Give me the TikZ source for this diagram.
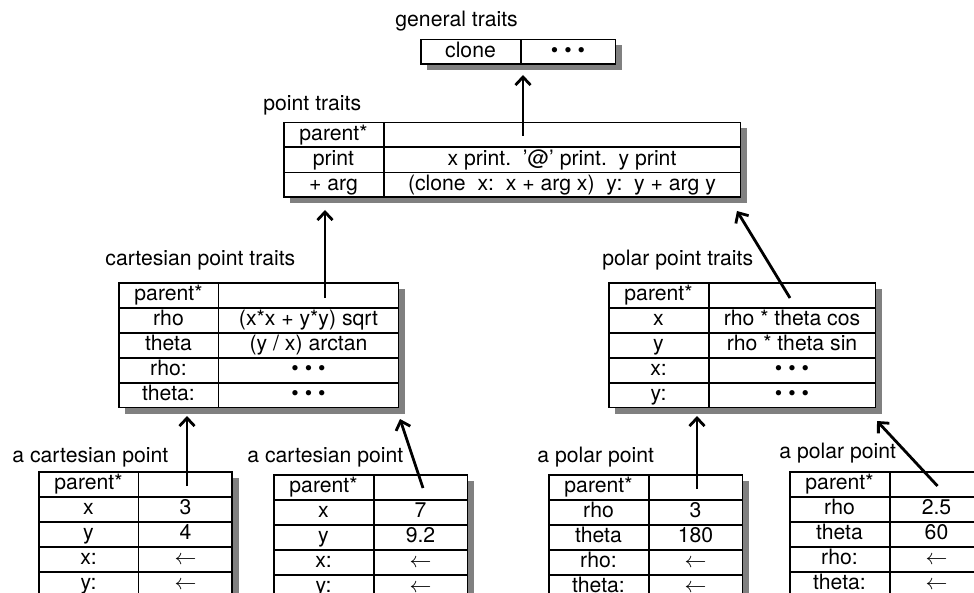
\documentclass[tikz,border=0pt]{standalone}
\usepackage{fontspec}
\setmainfont{TeX Gyre Heros}
\usepackage{tikz}
\usetikzlibrary{matrix,shadows,arrows.meta,calc}

\newcommand{\slotdots}{\textbullet~\textbullet~\textbullet}
\newcommand{\lftarr}{$\leftarrow$}

\tikzset{
  slot/.style={draw, line width=0.5pt, minimum height=12pt, inner sep=0pt,
    text height=7.6pt, text depth=2.2pt},
  tbl/.style={matrix of nodes, nodes in empty cells, anchor=north west,
    draw, line width=0.5pt, fill=white, inner sep=0pt,
    column sep=0pt, row sep=0pt, nodes={slot},
    column 1/.style={nodes={minimum width=49.5pt}},
    drop shadow={shadow xshift=3pt, shadow yshift=-3pt, fill=black!50, opacity=1}},
  valw/.style={column 2/.style={nodes={minimum width=#1}}},
  lbl/.style={anchor=base west, inner sep=0pt},
  ptr/.style={-{Straight Barb[length=4pt,width=7.5pt]}, line width=1.4pt}
}

\begin{document}
\begin{tikzpicture}[x=0.5pt, y=-0.5pt, font=\fontsize{10.6}{12}\selectfont]
  \useasboundingbox (0,0) rectangle (974,593);
  \clip (0,0) rectangle (974,593);

  % general traits
  \node[lbl] (gen-lbl) at (395,27) {general traits};
  \matrix (gen) [tbl, valw=47pt] at (420,39) {
    clone & \slotdots \\
  };

  % point traits
  \node[lbl] (pt-lbl) at (263,111) {point traits};
  \matrix (pt) [tbl, valw=178pt] at (283,122) {
    parent* & \\
    print & x print.~~'@' print.~~y print \\
    + arg & (clone~~x:~~x + arg x)~~y:~~y + arg y \\
  };

  % cartesian point traits
  \node[lbl] (cpt-lbl) at (105,265) {cartesian point traits};
  \matrix (cpt) [tbl, valw=89.5pt] at (118,282) {
    parent* & \\
    rho & (x*x + y*y) sqrt \\
    theta & (y / x) arctan \\
    rho: & \slotdots \\
    theta: & \slotdots \\
  };

  % polar point traits
  \node[lbl] (ppt-lbl) at (602,265) {polar point traits};
  \matrix (ppt) [tbl, valw=83pt] at (608,282) {
    parent* & \\
    x & rho * theta cos \\
    y & rho * theta sin \\
    x: & \slotdots \\
    y: & \slotdots \\
  };

  % the points
  \node[lbl] (c1-lbl) at (12,462) {a cartesian point};
  \matrix (c1) [tbl, valw=46.5pt] at (38,471) {
    parent* & \\
    x & 3 \\
    y & 4 \\
    x: & \lftarr \\
    y: & \lftarr \\
  };

  \node[lbl] (c2-lbl) at (247,462) {a cartesian point};
  \matrix (c2) [tbl, valw=46.5pt] at (273,474) {
    parent* & \\
    x & 7 \\
    y & 9.2 \\
    x: & \lftarr \\
    y: & \lftarr \\
  };

  \node[lbl] (p1-lbl) at (537,462) {a polar point};
  \matrix (p1) [tbl, valw=46.5pt] at (548,474) {
    parent* & \\
    rho & 3 \\
    theta & 180 \\
    rho: & \lftarr \\
    theta: & \lftarr \\
  };

  \node[lbl] (p2-lbl) at (779,458) {a polar point};
  \matrix (p2) [tbl, valw=46.5pt] at (789,471) {
    parent* & \\
    rho & 2.5 \\
    theta & 60 \\
    rho: & \lftarr \\
    theta: & \lftarr \\
  };

  % parent pointers
  \draw[ptr] ($(pt-1-2.center)+(-39,1)$) -- ($(pt-1-2.center |- gen.south)+(-39,10)$);
  \draw[ptr] ($(cpt-1-2.center)+(16.5,3)$) -- ($(cpt-1-2.center |- pt.south)+(16.5,12)$);
  \draw[ptr] ($(ppt-1-2.center)+(-2,3)$) -- ($(pt.south east)+(-4,13)$);
  \draw[ptr] ($(c1-1-2.center)+(1.5,2)$) -- ($(c1-1-2.center |- cpt.south)+(1.5,8)$);
  \draw[ptr] ($(c2-1-2.center)+(2.5,1)$) -- ($(cpt.south east)+(1,11)$);
  \draw[ptr] ($(p1-1-2.center)+(1.5,2)$) -- ($(p1-1-2.center |- ppt.south)+(1.5,8)$);
  \draw[ptr] ($(p2-1-2.center)+(1,2)$) -- ($(ppt.south east)+(1,13)$);
\end{tikzpicture}
\end{document}
